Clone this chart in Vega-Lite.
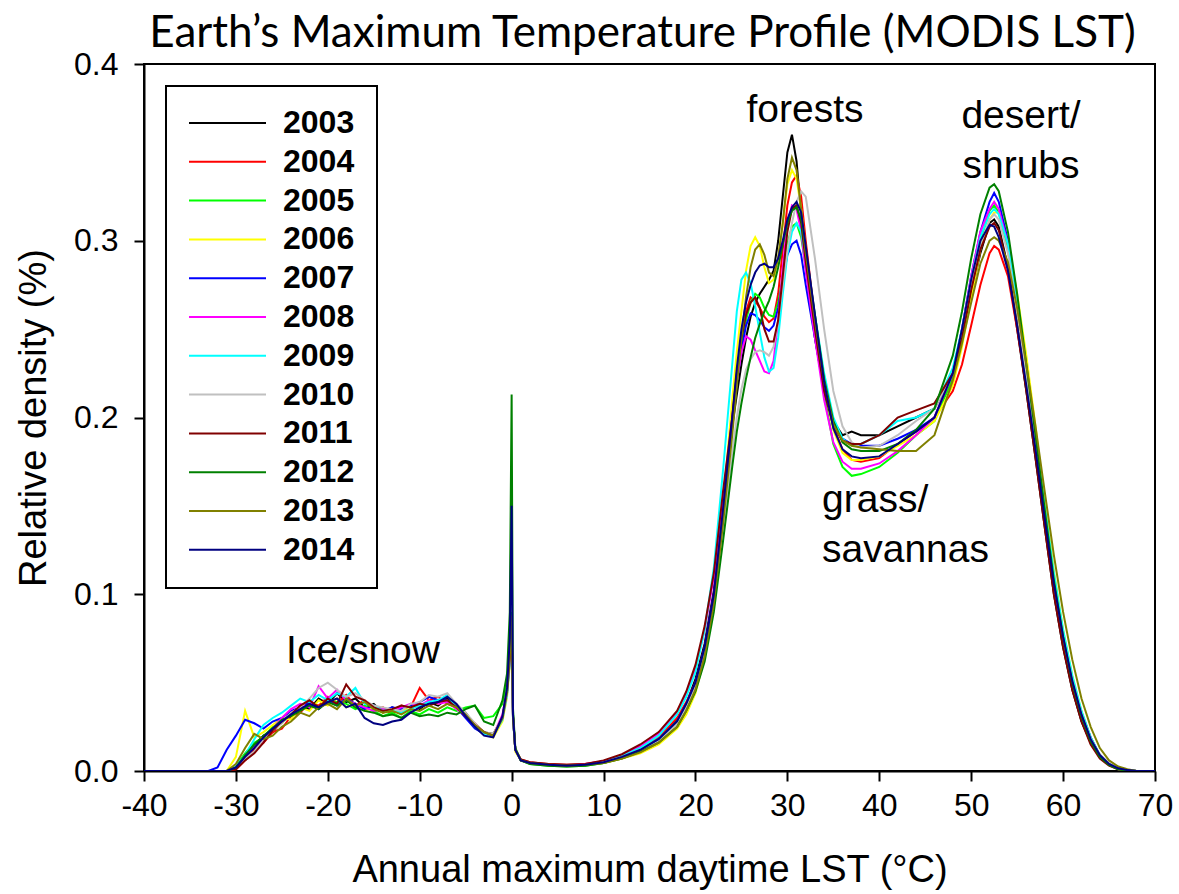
{
"$schema":"https://vega.github.io/schema/vega-lite/v6.json",
"width":1011,"height":707,"autosize":"none",
"padding":{"left":144,"top":64,"right":24,"bottom":123},
"background":"white",
"title":{"text":"Earth’s Maximum Temperature Profile (MODIS LST)","font":"Lato","fontSize":44,"fontWeight":"normal","color":"black","anchor":"middle","baseline":"alphabetic","offset":4,"dx":-7,"dy":47},
"config":{
 "view":{"stroke":"black","strokeWidth":2},
 "axis":{"domainColor":"black","domainWidth":2,"tickColor":"black","tickWidth":2,"tickSize":10,"grid":false,"labelFont":"Liberation Sans","labelColor":"black","titleFont":"Liberation Sans","titleFontWeight":"normal","titleColor":"black","titleFontSize":38},
 "legend":{"orient":"none","legendX":22,"legendY":22,"strokeColor":"black","strokeWidth":2,"padding":22,"symbolType":"stroke","symbolSize":5929,"symbolStrokeWidth":2,"labelFont":"Liberation Sans","labelFontSize":32,"labelFontWeight":"bold","labelColor":"black","labelOffset":16,"clipHeight":30,"rowPadding":6.8,"fillColor":"white"}
},
"datasets":{"curves":[
{"t":-40,"2003":0,"2004":0,"2005":0,"2006":0,"2007":0,"2008":0,"2009":0,"2010":0,"2011":0,"2012":0,"2013":0,"2014":0},
{"t":-33,"2003":0,"2004":0,"2005":0,"2006":0,"2007":0,"2008":0,"2009":0,"2010":0,"2011":0,"2012":0,"2013":0,"2014":0},
{"t":-32,"2003":0,"2004":0,"2005":0,"2006":0,"2007":0.002,"2008":0,"2009":0,"2010":0,"2011":0,"2012":0,"2013":0,"2014":0},
{"t":-31,"2003":0,"2004":0,"2005":0,"2006":0,"2007":0.012,"2008":0,"2009":0,"2010":0,"2011":0,"2012":0,"2013":0,"2014":0},
{"t":-30,"2003":0.002,"2004":0.001,"2005":0.003,"2006":0.008,"2007":0.02,"2008":0.002,"2009":0.003,"2010":0.002,"2011":0.001,"2012":0.002,"2013":0.004,"2014":0.002},
{"t":-29,"2003":0.009,"2004":0.006,"2005":0.01,"2006":0.034,"2007":0.029,"2008":0.008,"2009":0.009,"2010":0.007,"2011":0.006,"2012":0.009,"2013":0.013,"2014":0.008},
{"t":-28,"2003":0.014,"2004":0.012,"2005":0.016,"2006":0.019,"2007":0.027,"2008":0.014,"2009":0.018,"2010":0.011,"2011":0.01,"2012":0.015,"2013":0.021,"2014":0.013},
{"t":-27,"2003":0.02,"2004":0.016,"2005":0.019,"2006":0.022,"2007":0.024,"2008":0.017,"2009":0.026,"2010":0.018,"2011":0.016,"2012":0.02,"2013":0.018,"2014":0.019},
{"t":-26,"2003":0.022,"2004":0.022,"2005":0.025,"2006":0.026,"2007":0.028,"2008":0.024,"2009":0.03,"2010":0.023,"2011":0.023,"2012":0.024,"2013":0.02,"2014":0.024},
{"t":-25,"2003":0.028,"2004":0.024,"2005":0.027,"2006":0.03,"2007":0.03,"2008":0.03,"2009":0.033,"2010":0.027,"2011":0.028,"2012":0.029,"2013":0.025,"2014":0.028},
{"t":-24,"2003":0.031,"2004":0.031,"2005":0.033,"2006":0.029,"2007":0.034,"2008":0.035,"2009":0.037,"2010":0.033,"2011":0.032,"2012":0.031,"2013":0.028,"2014":0.032},
{"t":-23,"2003":0.037,"2004":0.033,"2005":0.035,"2006":0.036,"2007":0.036,"2008":0.038,"2009":0.041,"2010":0.036,"2011":0.037,"2012":0.034,"2013":0.033,"2014":0.035},
{"t":-22,"2003":0.035,"2004":0.039,"2005":0.04,"2006":0.034,"2007":0.039,"2008":0.036,"2009":0.039,"2010":0.041,"2011":0.04,"2012":0.037,"2013":0.031,"2014":0.038},
{"t":-21,"2003":0.041,"2004":0.037,"2005":0.036,"2006":0.04,"2007":0.035,"2008":0.048,"2009":0.043,"2010":0.047,"2011":0.036,"2012":0.035,"2013":0.036,"2014":0.036},
{"t":-20,"2003":0.038,"2004":0.042,"2005":0.041,"2006":0.037,"2007":0.04,"2008":0.041,"2009":0.04,"2010":0.05,"2011":0.041,"2012":0.039,"2013":0.038,"2014":0.039},
{"t":-19,"2003":0.044,"2004":0.038,"2005":0.039,"2006":0.041,"2007":0.037,"2008":0.046,"2009":0.044,"2010":0.046,"2011":0.038,"2012":0.037,"2013":0.035,"2014":0.041},
{"t":-18,"2003":0.039,"2004":0.043,"2005":0.038,"2006":0.036,"2007":0.041,"2008":0.04,"2009":0.042,"2010":0.042,"2011":0.049,"2012":0.04,"2013":0.041,"2014":0.036},
{"t":-17,"2003":0.041,"2004":0.037,"2005":0.035,"2006":0.038,"2007":0.038,"2008":0.038,"2009":0.047,"2010":0.044,"2011":0.042,"2012":0.036,"2013":0.037,"2014":0.038},
{"t":-16,"2003":0.036,"2004":0.04,"2005":0.037,"2006":0.034,"2007":0.035,"2008":0.036,"2009":0.038,"2010":0.04,"2011":0.04,"2012":0.034,"2013":0.039,"2014":0.03},
{"t":-15,"2003":0.038,"2004":0.035,"2005":0.034,"2006":0.036,"2007":0.037,"2008":0.034,"2009":0.037,"2010":0.037,"2011":0.036,"2012":0.033,"2013":0.035,"2014":0.027},
{"t":-14,"2003":0.033,"2004":0.036,"2005":0.031,"2006":0.033,"2007":0.034,"2008":0.035,"2009":0.034,"2010":0.036,"2011":0.034,"2012":0.031,"2013":0.033,"2014":0.026},
{"t":-13,"2003":0.036,"2004":0.032,"2005":0.033,"2006":0.035,"2007":0.036,"2008":0.034,"2009":0.035,"2010":0.035,"2011":0.035,"2012":0.032,"2013":0.034,"2014":0.028},
{"t":-12,"2003":0.034,"2004":0.037,"2005":0.03,"2006":0.033,"2007":0.035,"2008":0.036,"2009":0.033,"2010":0.034,"2011":0.037,"2012":0.03,"2013":0.032,"2014":0.029},
{"t":-11,"2003":0.038,"2004":0.036,"2005":0.034,"2006":0.037,"2007":0.037,"2008":0.038,"2009":0.035,"2010":0.038,"2011":0.036,"2012":0.033,"2013":0.035,"2014":0.033},
{"t":-10,"2003":0.035,"2004":0.047,"2005":0.032,"2006":0.036,"2007":0.039,"2008":0.037,"2009":0.037,"2010":0.039,"2011":0.038,"2012":0.031,"2013":0.034,"2014":0.036},
{"t":-9,"2003":0.039,"2004":0.04,"2005":0.035,"2006":0.04,"2007":0.042,"2008":0.04,"2009":0.039,"2010":0.043,"2011":0.037,"2012":0.032,"2013":0.037,"2014":0.038},
{"t":-8,"2003":0.037,"2004":0.042,"2005":0.033,"2006":0.038,"2007":0.04,"2008":0.038,"2009":0.04,"2010":0.042,"2011":0.039,"2012":0.031,"2013":0.035,"2014":0.039},
{"t":-7,"2003":0.041,"2004":0.038,"2005":0.036,"2006":0.04,"2007":0.04,"2008":0.039,"2009":0.043,"2010":0.044,"2011":0.04,"2012":0.033,"2013":0.038,"2014":0.042},
{"t":-6,"2003":0.037,"2004":0.036,"2005":0.034,"2006":0.036,"2007":0.036,"2008":0.035,"2009":0.036,"2010":0.038,"2011":0.036,"2012":0.032,"2013":0.036,"2014":0.038},
{"t":-5,"2003":0.033,"2004":0.031,"2005":0.036,"2006":0.031,"2007":0.03,"2008":0.032,"2009":0.032,"2010":0.033,"2011":0.031,"2012":0.035,"2013":0.032,"2014":0.031},
{"t":-4,"2003":0.026,"2004":0.027,"2005":0.037,"2006":0.025,"2007":0.024,"2008":0.026,"2009":0.025,"2010":0.027,"2011":0.026,"2012":0.037,"2013":0.026,"2014":0.025},
{"t":-3,"2003":0.022,"2004":0.022,"2005":0.03,"2006":0.021,"2007":0.021,"2008":0.022,"2009":0.021,"2010":0.022,"2011":0.022,"2012":0.028,"2013":0.022,"2014":0.02},
{"t":-2,"2003":0.021,"2004":0.02,"2005":0.031,"2006":0.019,"2007":0.02,"2008":0.02,"2009":0.02,"2010":0.021,"2011":0.02,"2012":0.026,"2013":0.02,"2014":0.019},
{"t":-1,"2003":0.03,"2004":0.029,"2005":0.038,"2006":0.028,"2007":0.03,"2008":0.032,"2009":0.029,"2010":0.03,"2011":0.03,"2012":0.04,"2013":0.03,"2014":0.031},
{"t":-0.5,"2003":0.045,"2004":0.044,"2005":0.05,"2006":0.042,"2007":0.044,"2008":0.046,"2009":0.043,"2010":0.044,"2011":0.045,"2012":0.055,"2013":0.045,"2014":0.047},
{"t":-0.2,"2003":0.065,"2004":0.063,"2005":0.07,"2006":0.06,"2007":0.062,"2008":0.064,"2009":0.062,"2010":0.063,"2011":0.064,"2012":0.09,"2013":0.066,"2014":0.075},
{"t":0,"2003":0.08,"2004":0.085,"2005":0.09,"2006":0.075,"2007":0.08,"2008":0.082,"2009":0.078,"2010":0.08,"2011":0.085,"2012":0.213,"2013":0.088,"2014":0.15},
{"t":0.15,"2003":0.03,"2004":0.03,"2005":0.032,"2006":0.03,"2007":0.03,"2008":0.03,"2009":0.029,"2010":0.03,"2011":0.031,"2012":0.035,"2013":0.031,"2014":0.032},
{"t":0.4,"2003":0.012,"2004":0.012,"2005":0.012,"2006":0.011,"2007":0.012,"2008":0.012,"2009":0.012,"2010":0.012,"2011":0.012,"2012":0.013,"2013":0.012,"2014":0.012},
{"t":1,"2003":0.006,"2004":0.0065,"2005":0.006,"2006":0.006,"2007":0.006,"2008":0.006,"2009":0.006,"2010":0.006,"2011":0.0065,"2012":0.006,"2013":0.006,"2014":0.006},
{"t":2,"2003":0.0045,"2004":0.005,"2005":0.004,"2006":0.0045,"2007":0.0045,"2008":0.0045,"2009":0.0045,"2010":0.0045,"2011":0.005,"2012":0.004,"2013":0.0045,"2014":0.0045},
{"t":4,"2003":0.0035,"2004":0.004,"2005":0.003,"2006":0.0035,"2007":0.0035,"2008":0.0035,"2009":0.0035,"2010":0.0035,"2011":0.004,"2012":0.003,"2013":0.0035,"2014":0.0035},
{"t":6,"2003":0.003,"2004":0.0035,"2005":0.0025,"2006":0.003,"2007":0.003,"2008":0.003,"2009":0.003,"2010":0.003,"2011":0.0035,"2012":0.0025,"2013":0.003,"2014":0.003},
{"t":8,"2003":0.0035,"2004":0.004,"2005":0.003,"2006":0.0035,"2007":0.0035,"2008":0.004,"2009":0.0035,"2010":0.0035,"2011":0.004,"2012":0.003,"2013":0.0035,"2014":0.0035},
{"t":10,"2003":0.005,"2004":0.0055,"2005":0.0045,"2006":0.0045,"2007":0.005,"2008":0.0055,"2009":0.005,"2010":0.005,"2011":0.006,"2012":0.0045,"2013":0.0045,"2014":0.005},
{"t":12,"2003":0.008,"2004":0.0085,"2005":0.0075,"2006":0.007,"2007":0.008,"2008":0.009,"2009":0.0085,"2010":0.008,"2011":0.0095,"2012":0.007,"2013":0.007,"2014":0.008},
{"t":14,"2003":0.012,"2004":0.013,"2005":0.012,"2006":0.01,"2007":0.012,"2008":0.014,"2009":0.013,"2010":0.012,"2011":0.015,"2012":0.011,"2013":0.0105,"2014":0.012},
{"t":16,"2003":0.018,"2004":0.019,"2005":0.018,"2006":0.015,"2007":0.018,"2008":0.021,"2009":0.02,"2010":0.017,"2011":0.022,"2012":0.016,"2013":0.016,"2014":0.018},
{"t":18,"2003":0.029,"2004":0.03,"2005":0.028,"2006":0.024,"2007":0.028,"2008":0.033,"2009":0.032,"2010":0.027,"2011":0.034,"2012":0.025,"2013":0.025,"2014":0.028},
{"t":19,"2003":0.038,"2004":0.039,"2005":0.036,"2006":0.032,"2007":0.038,"2008":0.044,"2009":0.042,"2010":0.036,"2011":0.045,"2012":0.034,"2013":0.034,"2014":0.038},
{"t":20,"2003":0.052,"2004":0.05,"2005":0.048,"2006":0.044,"2007":0.05,"2008":0.058,"2009":0.056,"2010":0.048,"2011":0.06,"2012":0.045,"2013":0.046,"2014":0.05},
{"t":21,"2003":0.072,"2004":0.07,"2005":0.068,"2006":0.064,"2007":0.07,"2008":0.08,"2009":0.08,"2010":0.066,"2011":0.082,"2012":0.062,"2013":0.065,"2014":0.07},
{"t":22,"2003":0.102,"2004":0.1,"2005":0.098,"2006":0.097,"2007":0.1,"2008":0.11,"2009":0.115,"2010":0.095,"2011":0.112,"2012":0.09,"2013":0.095,"2014":0.1},
{"t":23,"2003":0.15,"2004":0.15,"2005":0.145,"2006":0.15,"2007":0.15,"2008":0.155,"2009":0.17,"2010":0.138,"2011":0.158,"2012":0.13,"2013":0.14,"2014":0.148},
{"t":24,"2003":0.195,"2004":0.2,"2005":0.195,"2006":0.21,"2007":0.198,"2008":0.2,"2009":0.23,"2010":0.18,"2011":0.2,"2012":0.172,"2013":0.19,"2014":0.2},
{"t":24.5,"2003":0.213,"2004":0.225,"2005":0.22,"2006":0.237,"2007":0.22,"2008":0.22,"2009":0.26,"2010":0.2,"2011":0.225,"2012":0.192,"2013":0.218,"2014":0.228},
{"t":25,"2003":0.23,"2004":0.245,"2005":0.24,"2006":0.26,"2007":0.238,"2008":0.237,"2009":0.278,"2010":0.216,"2011":0.245,"2012":0.208,"2013":0.245,"2014":0.25},
{"t":25.5,"2003":0.245,"2004":0.26,"2005":0.255,"2006":0.283,"2007":0.252,"2008":0.246,"2009":0.282,"2010":0.227,"2011":0.258,"2012":0.222,"2013":0.268,"2014":0.265},
{"t":26,"2003":0.257,"2004":0.268,"2005":0.265,"2006":0.297,"2007":0.259,"2008":0.244,"2009":0.276,"2010":0.233,"2011":0.265,"2012":0.234,"2013":0.285,"2014":0.275},
{"t":26.5,"2003":0.265,"2004":0.266,"2005":0.27,"2006":0.302,"2007":0.258,"2008":0.238,"2009":0.263,"2010":0.237,"2011":0.268,"2012":0.245,"2013":0.295,"2014":0.282},
{"t":27,"2003":0.27,"2004":0.262,"2005":0.268,"2006":0.297,"2007":0.255,"2008":0.232,"2009":0.248,"2010":0.238,"2011":0.262,"2012":0.253,"2013":0.298,"2014":0.286},
{"t":27.5,"2003":0.274,"2004":0.257,"2005":0.262,"2006":0.285,"2007":0.251,"2008":0.226,"2009":0.234,"2010":0.237,"2011":0.25,"2012":0.26,"2013":0.292,"2014":0.287},
{"t":28,"2003":0.278,"2004":0.254,"2005":0.258,"2006":0.276,"2007":0.249,"2008":0.225,"2009":0.226,"2010":0.235,"2011":0.243,"2012":0.266,"2013":0.282,"2014":0.285},
{"t":28.5,"2003":0.283,"2004":0.256,"2005":0.257,"2006":0.278,"2007":0.252,"2008":0.232,"2009":0.228,"2010":0.24,"2011":0.243,"2012":0.274,"2013":0.28,"2014":0.285},
{"t":29,"2003":0.3,"2004":0.27,"2005":0.265,"2006":0.29,"2007":0.262,"2008":0.255,"2009":0.245,"2010":0.255,"2011":0.255,"2012":0.285,"2013":0.29,"2014":0.29},
{"t":29.5,"2003":0.325,"2004":0.295,"2005":0.28,"2006":0.31,"2007":0.278,"2008":0.285,"2009":0.27,"2010":0.275,"2011":0.28,"2012":0.298,"2013":0.31,"2014":0.3},
{"t":30,"2003":0.35,"2004":0.32,"2005":0.298,"2006":0.332,"2007":0.292,"2008":0.31,"2009":0.292,"2010":0.295,"2011":0.305,"2012":0.31,"2013":0.335,"2014":0.312},
{"t":30.5,"2003":0.36,"2004":0.333,"2005":0.308,"2006":0.34,"2007":0.298,"2008":0.32,"2009":0.305,"2010":0.31,"2011":0.318,"2012":0.317,"2013":0.347,"2014":0.319},
{"t":31,"2003":0.345,"2004":0.337,"2005":0.31,"2006":0.335,"2007":0.3,"2008":0.318,"2009":0.31,"2010":0.322,"2011":0.32,"2012":0.319,"2013":0.34,"2014":0.322},
{"t":31.5,"2003":0.315,"2004":0.325,"2005":0.302,"2006":0.318,"2007":0.292,"2008":0.305,"2009":0.305,"2010":0.328,"2011":0.31,"2012":0.312,"2013":0.318,"2014":0.316},
{"t":32,"2003":0.285,"2004":0.3,"2005":0.285,"2006":0.295,"2007":0.275,"2008":0.283,"2009":0.29,"2010":0.325,"2011":0.288,"2012":0.295,"2013":0.293,"2014":0.297},
{"t":33,"2003":0.245,"2004":0.255,"2005":0.25,"2006":0.255,"2007":0.245,"2008":0.245,"2009":0.258,"2010":0.29,"2011":0.25,"2012":0.258,"2013":0.255,"2014":0.258},
{"t":34,"2003":0.215,"2004":0.22,"2005":0.213,"2006":0.218,"2007":0.215,"2008":0.21,"2009":0.225,"2010":0.25,"2011":0.215,"2012":0.222,"2013":0.22,"2014":0.22},
{"t":35,"2003":0.198,"2004":0.195,"2005":0.185,"2006":0.193,"2007":0.197,"2008":0.186,"2009":0.2,"2010":0.215,"2011":0.195,"2012":0.198,"2013":0.196,"2014":0.194},
{"t":36,"2003":0.19,"2004":0.182,"2005":0.172,"2006":0.18,"2007":0.188,"2008":0.175,"2009":0.188,"2010":0.195,"2011":0.187,"2012":0.186,"2013":0.187,"2014":0.182},
{"t":37,"2003":0.192,"2004":0.176,"2005":0.167,"2006":0.176,"2007":0.185,"2008":0.171,"2009":0.184,"2010":0.186,"2011":0.185,"2012":0.182,"2013":0.184,"2014":0.178},
{"t":38,"2003":0.19,"2004":0.175,"2005":0.168,"2006":0.176,"2007":0.184,"2008":0.171,"2009":0.185,"2010":0.183,"2011":0.185,"2012":0.181,"2013":0.183,"2014":0.177},
{"t":40,"2003":0.19,"2004":0.177,"2005":0.172,"2006":0.178,"2007":0.184,"2008":0.174,"2009":0.19,"2010":0.184,"2011":0.19,"2012":0.181,"2013":0.182,"2014":0.178},
{"t":42,"2003":0.195,"2004":0.185,"2005":0.18,"2006":0.184,"2007":0.188,"2008":0.181,"2009":0.198,"2010":0.19,"2011":0.2,"2012":0.185,"2013":0.181,"2014":0.185},
{"t":44,"2003":0.2,"2004":0.192,"2005":0.19,"2006":0.19,"2007":0.193,"2008":0.19,"2009":0.2,"2010":0.198,"2011":0.204,"2012":0.193,"2013":0.181,"2014":0.192},
{"t":46,"2003":0.205,"2004":0.2,"2005":0.198,"2006":0.198,"2007":0.2,"2008":0.2,"2009":0.205,"2010":0.205,"2011":0.208,"2012":0.205,"2013":0.19,"2014":0.2},
{"t":48,"2003":0.225,"2004":0.215,"2005":0.222,"2006":0.218,"2007":0.225,"2008":0.225,"2009":0.228,"2010":0.225,"2011":0.225,"2012":0.235,"2013":0.221,"2014":0.225},
{"t":49,"2003":0.245,"2004":0.23,"2005":0.245,"2006":0.24,"2007":0.25,"2008":0.25,"2009":0.25,"2010":0.247,"2011":0.245,"2012":0.26,"2013":0.242,"2014":0.25},
{"t":50,"2003":0.27,"2004":0.252,"2005":0.275,"2006":0.268,"2007":0.28,"2008":0.28,"2009":0.278,"2010":0.275,"2011":0.272,"2012":0.29,"2013":0.265,"2014":0.278},
{"t":51,"2003":0.293,"2004":0.275,"2005":0.3,"2006":0.295,"2007":0.305,"2008":0.305,"2009":0.302,"2010":0.298,"2011":0.295,"2012":0.315,"2013":0.287,"2014":0.3},
{"t":52,"2003":0.31,"2004":0.293,"2005":0.317,"2006":0.312,"2007":0.322,"2008":0.318,"2009":0.315,"2010":0.312,"2011":0.308,"2012":0.33,"2013":0.3,"2014":0.309},
{"t":52.5,"2003":0.312,"2004":0.297,"2005":0.32,"2006":0.316,"2007":0.327,"2008":0.322,"2009":0.318,"2010":0.315,"2011":0.31,"2012":0.332,"2013":0.302,"2014":0.308},
{"t":53,"2003":0.308,"2004":0.295,"2005":0.316,"2006":0.316,"2007":0.322,"2008":0.318,"2009":0.315,"2010":0.312,"2011":0.306,"2012":0.328,"2013":0.3,"2014":0.302},
{"t":54,"2003":0.285,"2004":0.28,"2005":0.295,"2006":0.3,"2007":0.3,"2008":0.298,"2009":0.298,"2010":0.293,"2011":0.285,"2012":0.305,"2013":0.288,"2014":0.283},
{"t":55,"2003":0.25,"2004":0.25,"2005":0.26,"2006":0.27,"2007":0.263,"2008":0.262,"2009":0.265,"2010":0.26,"2011":0.252,"2012":0.27,"2013":0.262,"2014":0.252},
{"t":56,"2003":0.215,"2004":0.217,"2005":0.222,"2006":0.235,"2007":0.225,"2008":0.223,"2009":0.228,"2010":0.223,"2011":0.215,"2012":0.23,"2013":0.23,"2014":0.218},
{"t":57,"2003":0.177,"2004":0.18,"2005":0.182,"2006":0.195,"2007":0.186,"2008":0.183,"2009":0.19,"2010":0.185,"2011":0.177,"2012":0.19,"2013":0.195,"2014":0.182},
{"t":58,"2003":0.138,"2004":0.14,"2005":0.142,"2006":0.152,"2007":0.146,"2008":0.143,"2009":0.15,"2010":0.145,"2011":0.138,"2012":0.148,"2013":0.158,"2014":0.143},
{"t":59,"2003":0.1,"2004":0.102,"2005":0.104,"2006":0.113,"2007":0.108,"2008":0.105,"2009":0.112,"2010":0.107,"2011":0.1,"2012":0.108,"2013":0.122,"2014":0.106},
{"t":60,"2003":0.07,"2004":0.072,"2005":0.073,"2006":0.08,"2007":0.077,"2008":0.075,"2009":0.08,"2010":0.076,"2011":0.07,"2012":0.076,"2013":0.09,"2014":0.076},
{"t":61,"2003":0.046,"2004":0.048,"2005":0.049,"2006":0.054,"2007":0.052,"2008":0.05,"2009":0.054,"2010":0.051,"2011":0.046,"2012":0.05,"2013":0.063,"2014":0.051},
{"t":62,"2003":0.028,"2004":0.03,"2005":0.031,"2006":0.034,"2007":0.033,"2008":0.031,"2009":0.034,"2010":0.032,"2011":0.028,"2012":0.031,"2013":0.041,"2014":0.032},
{"t":63,"2003":0.016,"2004":0.017,"2005":0.017,"2006":0.019,"2007":0.019,"2008":0.017,"2009":0.019,"2010":0.018,"2011":0.015,"2012":0.017,"2013":0.025,"2014":0.018},
{"t":64,"2003":0.008,"2004":0.009,"2005":0.008,"2006":0.009,"2007":0.009,"2008":0.008,"2009":0.009,"2010":0.009,"2011":0.007,"2012":0.008,"2013":0.013,"2014":0.009},
{"t":65,"2003":0.004,"2004":0.004,"2005":0.0035,"2006":0.004,"2007":0.004,"2008":0.0035,"2009":0.004,"2010":0.004,"2011":0.003,"2012":0.0035,"2013":0.006,"2014":0.004},
{"t":66,"2003":0.0015,"2004":0.0015,"2005":0.001,"2006":0.0015,"2007":0.0015,"2008":0.001,"2009":0.0015,"2010":0.0015,"2011":0.001,"2012":0.001,"2013":0.0025,"2014":0.0015},
{"t":67,"2003":0.0005,"2004":0.0005,"2005":0,"2006":0.0005,"2007":0.0005,"2008":0,"2009":0.0005,"2010":0.0005,"2011":0,"2012":0,"2013":0.001,"2014":0.0005},
{"t":68,"2003":0,"2004":0,"2005":0,"2006":0,"2007":0,"2008":0,"2009":0,"2010":0,"2011":0,"2012":0,"2013":0,"2014":0},
{"t":70,"2003":0,"2004":0,"2005":0,"2006":0,"2007":0,"2008":0,"2009":0,"2010":0,"2011":0,"2012":0,"2013":0,"2014":0}
]},
"encoding":{
 "x":{"field":"t","type":"quantitative","scale":{"domain":[-40,70],"nice":false,"zero":false},
  "axis":{"values":[-40,-30,-20,-10,0,10,20,30,40,50,60,70],"title":"Annual maximum daytime LST (°C)","labelExpr":"datum.value < 0 ? '-' + abs(datum.value) : '' + datum.value","labelFlush":false,"labelOverlap":false,"labelFontSize":32,"labelPadding":9,"titlePadding":30}},
 "y":{"field":"value","type":"quantitative","scale":{"domain":[0,0.4],"nice":false},
  "axis":{"values":[0,0.1,0.2,0.3,0.4],"format":".1f","title":"Relative density (%)","labelFontSize":32,"labelPadding":16,"titlePadding":20,"labelFlush":false}}
},
"layer":[
 {"data":{"name":"curves"},
  "transform":[{"fold":["2003","2004","2005","2006","2007","2008","2009","2010","2011","2012","2013","2014"],"as":["year","value"]}],
  "mark":{"type":"line","strokeWidth":2,"clip":true},
  "encoding":{"color":{"field":"year","type":"nominal","scale":{"domain":["2003","2004","2005","2006","2007","2008","2009","2010","2011","2012","2013","2014"],"range":["#000000","#ff0000","#00ff00","#ffff00","#0000ff","#ff00ff","#00ffff","#c0c0c0","#800000","#008000","#808000","#000080"]},"legend":{"title":null}}}},
 {"data":{"values":[{"t":31.92,"value":0.3674,"label":"forests"},{"t":55.42,"value":0.3638,"label":"desert/"},{"t":55.42,"value":0.3355,"label":"shrubs"},{"t":-16.17,"value":0.0611,"label":"Ice/snow"}]},
  "mark":{"type":"text","align":"center","baseline":"alphabetic","font":"Liberation Sans","fontSize":39,"color":"black"},
  "encoding":{"text":{"field":"label"}}},
 {"data":{"values":[{"t":33.77,"value":0.1465,"label":"grass/"},{"t":33.77,"value":0.1182,"label":"savannas"}]},
  "mark":{"type":"text","align":"left","baseline":"alphabetic","font":"Liberation Sans","fontSize":39,"color":"black"},
  "encoding":{"text":{"field":"label"}}}
]
}
